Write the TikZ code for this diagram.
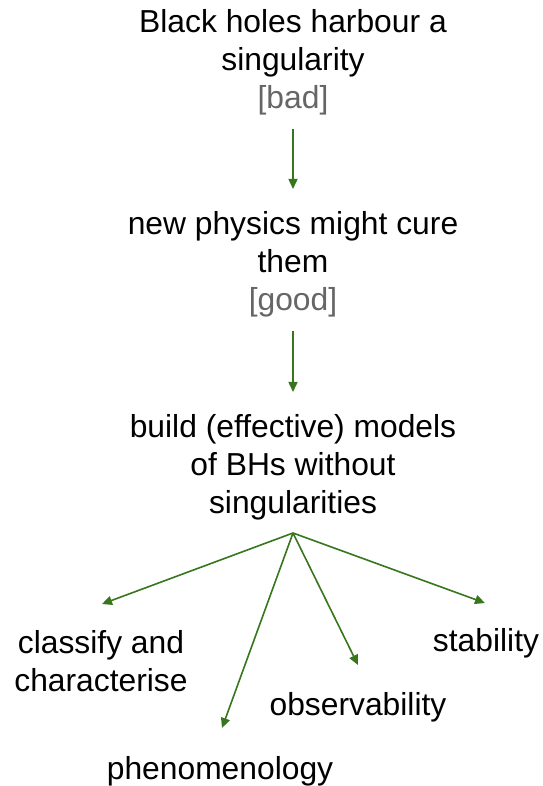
\documentclass[tikz,border=0pt]{standalone}
\usepackage{fontspec}
\setmainfont{Liberation Sans}
\usetikzlibrary{arrows.meta}
\definecolor{arrgreen}{HTML}{38761D}
\definecolor{notegray}{HTML}{666666}
\begin{document}
\begin{tikzpicture}[x=1pt,y=-1pt,
  lbl/.style={inner sep=0pt,align=center,font=\fontsize{31.8}{38}\selectfont},
  note/.style={text=notegray},
  arr/.style={draw=arrgreen,line width=1.6pt,-{Triangle[length=10pt,width=9pt]}}]
\useasboundingbox[fill=white] (0,0) rectangle (542,786);
\node[lbl] (bh) at (293,62) {Black holes harbour a\\singularity\\{\color{notegray}[bad]}};
\node[lbl] (np) at (293,264) {new physics might cure\\them\\{\color{notegray}[good]}};
\node[lbl] (bm) at (293,467) {build (effective) models\\of BHs without\\singularities};
\node[lbl] (cl) at (101,661) {classify and\\characterise};
\node[lbl] (ph) at (220,771) {phenomenology};
\node[lbl] (ob) at (358,707) {observability};
\node[lbl] (st) at (486,643) {stability};
\coordinate (fan) at (293,533);
\coordinate (tcl) at (102,604);
\coordinate (tph) at (222,728);
\coordinate (tob) at (358,665);
\coordinate (tst) at (485,603);
\draw[arr,shorten <=14pt,shorten >=22pt] (bh) -- (np);
\draw[arr,shorten <=14pt,shorten >=22pt] (np) -- (bm);
\draw[arr] (fan) -- (tcl);
\draw[arr] (fan) -- (tph);
\draw[arr] (fan) -- (tob);
\draw[arr] (fan) -- (tst);
\end{tikzpicture}
\end{document}
